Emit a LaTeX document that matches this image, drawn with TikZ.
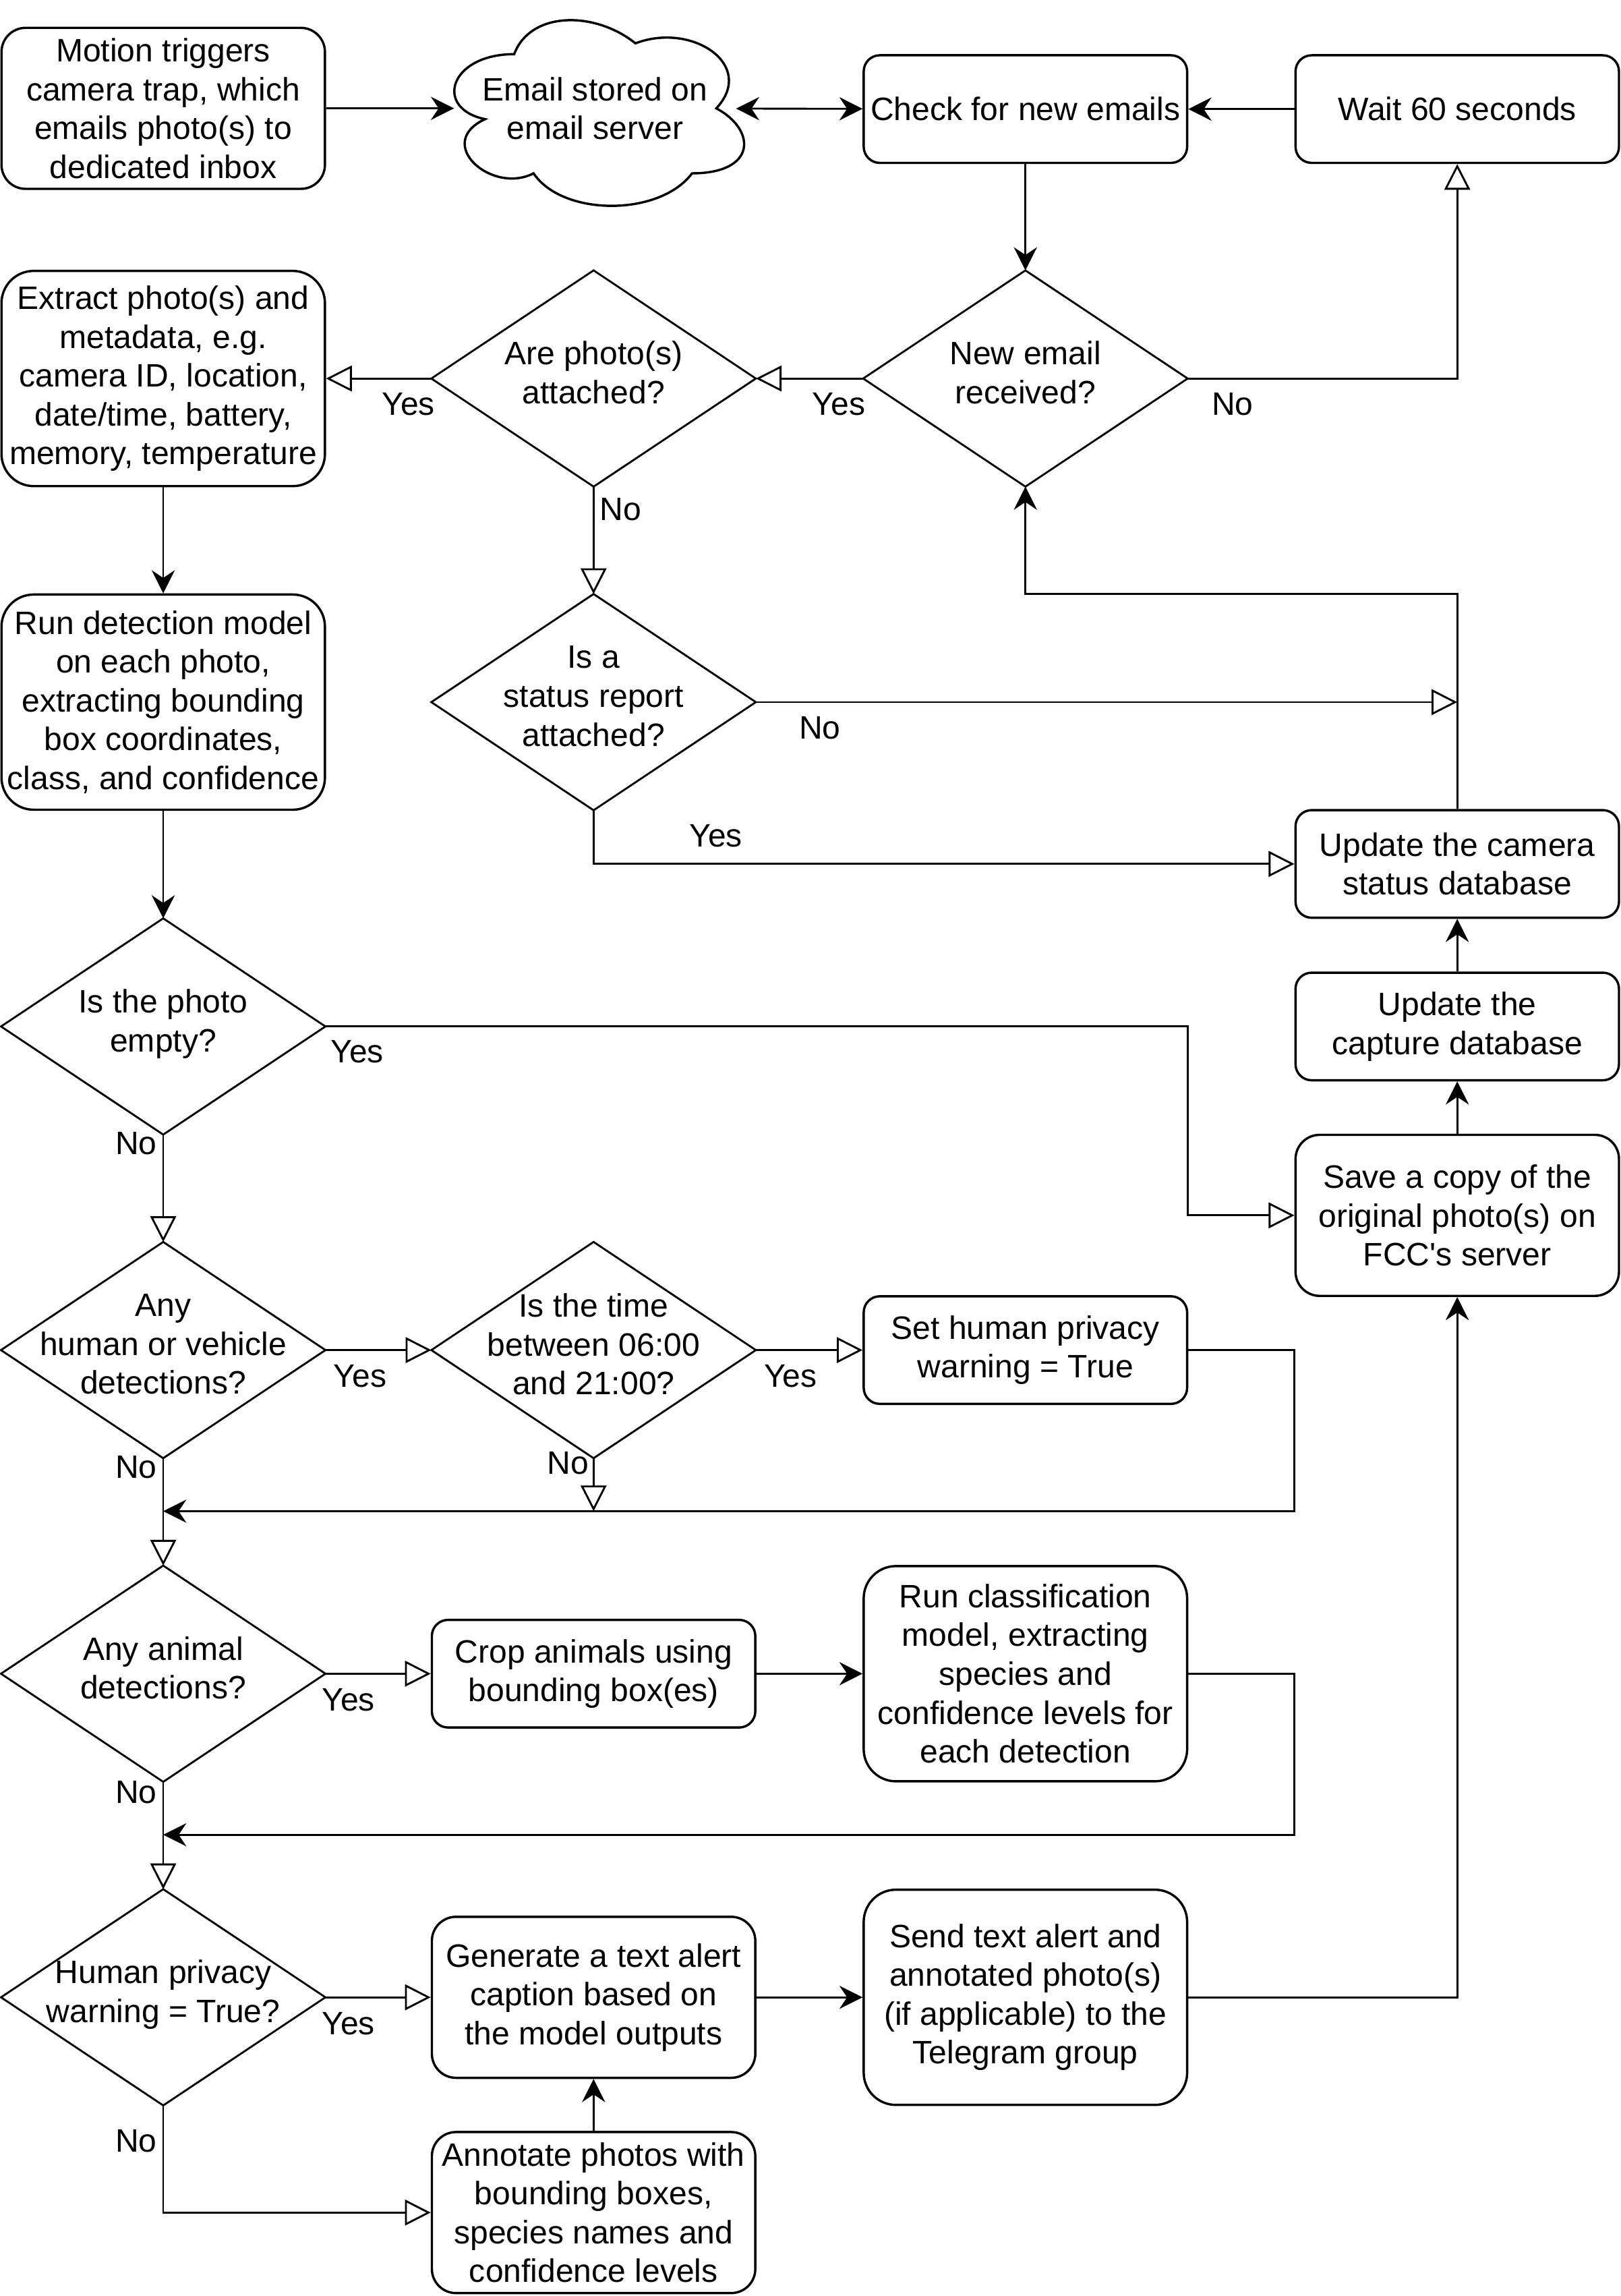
\documentclass[tikz,border=0pt]{standalone}
\usepackage{fontspec}
\setmainfont{Liberation Sans}
\usetikzlibrary{arrows.meta,calc}

\tikzset{
  proc/.style={draw, line width=0.9pt, fill=white, align=center, inner sep=1pt, minimum width=4.42cm},
  procS/.style={proc, minimum height=1.47cm, rounded corners=0.22cm},
  procM/.style={proc, minimum height=2.2cm, rounded corners=0.33cm},
  procL/.style={proc, minimum height=2.94cm, rounded corners=0.44cm},
  decision/.style={align=center, inner sep=0pt, minimum width=4.42cm, minimum height=2.94cm,
    execute at begin node={\rule{0pt}{11.9pt}}, execute at end node={\rule[-4.7pt]{0pt}{4.7pt}}},
  lbl/.style={inner sep=0pt},
  link/.style={line width=0.75pt},
  flow/.style={link, -{Stealth[length=9pt, width=9pt, inset=3pt]}},
  both/.style={link, {Stealth[length=9pt, width=9pt, inset=3pt]}-{Stealth[length=9pt, width=9pt, inset=3pt]}},
  branch/.style={link, -{Triangle[open, length=10pt, width=10pt]}}
}

\begin{document}
\begin{tikzpicture}[x=0.02cm, y=-0.02cm, every node/.style={font=\fontsize{12.6}{15.1}\selectfont}]
    \useasboundingbox (0,0) rectangle (1107,1568);

    % mail server cloud
    \begin{scope}[shift={(296,0)}, x=4.42cm, y=-2.96cm]
    \draw[line width=0.9pt, fill=white] (0.25,0.25) .. controls (0.05,0.25) and (0,0.5) .. (0.16,0.55)
        .. controls (0,0.66) and (0.18,0.9) .. (0.31,0.8)
        .. controls (0.4,1) and (0.7,1) .. (0.8,0.8)
        .. controls (1,0.8) and (1,0.6) .. (0.875,0.5)
        .. controls (1,0.3) and (0.8,0.1) .. (0.625,0.2)
        .. controls (0.5,0.05) and (0.3,0.05) .. (0.25,0.25) -- cycle;
    \end{scope}

    \node[procM] (motion) at (111.5,74) {Motion triggers\\camera trap, which\\emails photo(s) to\\dedicated inbox};
    \node[align=center, inner sep=0pt, minimum width=3.84cm] (mail) at (406.5,74) {Email stored on\\email server};
    \node[procS] (check) at (700.5,74.5) {Check for new emails};
    \node[procS] (wait) at (995.5,74.5) {Wait 60 seconds};

    \node[decision] (newmail) at (700.5,258.5) {New email\\received?};
    \node[decision] (photos) at (405.5,258.5) {Are photo(s)\\attached?};
    \node[procL] (extract) at (111.5,258.5) {Extract photo(s) and\\metadata, e.g.\\camera ID, location,\\date/time, battery,\\memory, temperature};
    \node[procL] (detect) at (111.5,479.5) {Run detection model\\on each photo,\\extracting bounding\\box coordinates,\\class, and confidence};
    \node[decision] (status) at (405.5,479.5) {Is a\\status report\\attached?};

    \node[procS] (camdb) at (995.5,590) {Update the camera\\status database};
    \node[procS] (capdb) at (995.5,701) {Update the\\capture database};
    \node[procM] (save) at (995.5,830) {Save a copy of the\\original photo(s) on\\FCC\textquotesingle s server};

    \node[decision] (empty) at (111.5,701) {Is the photo\\empty?};
    \node[decision] (human) at (111.5,922) {Any\\human or vehicle\\detections?};
    \node[decision] (daytime) at (405.5,922) {Is the time\\between 06:00\\and 21:00?};
    \node[procS] (privset) at (700.5,922) {Set human privacy\\warning = True};

    \node[decision] (animal) at (111.5,1143) {Any animal\\detections?};
    \node[procS] (crop) at (405.5,1143) {Crop animals using\\bounding box(es)};
    \node[procL] (classify) at (700.5,1143) {Run classification\\model, extracting\\species and\\confidence levels for\\each detection};

    \node[decision] (privacy) at (111.5,1364) {Human privacy\\warning = True?};
    \node[procM] (caption) at (405.5,1364) {Generate a text alert\\caption based on\\the model outputs};
    \node[procL] (send) at (700.5,1364) {Send text alert and\\annotated photo(s)\\(if applicable) to the\\Telegram group};
    \node[procM] (annotate) at (405.5,1511) {Annotate photos with\\bounding boxes,\\species names and\\confidence levels};

    \foreach \d in {newmail,photos,status,empty,human,daytime,animal,privacy}
    \draw[line width=0.75pt] (\d.north) -- (\d.east) -- (\d.south) -- (\d.west) -- cycle;

    \coordinate (joinA) at (111.5,1032);
    \coordinate (joinB) at (111.5,1253);

    % connectors
    \draw[flow] (motion) -- (mail);
    \draw[both] (mail) -- (check);
    \draw[flow] (wait) -- (check);
    \draw[flow] (check) -- (newmail);
    \draw[branch] (newmail.east) -| (wait.south);
    \draw[branch] (newmail) -- (photos);
    \draw[branch] (photos) -- (extract);
    \draw[branch] (photos) -- (status);
    \draw[flow] (extract) -- (detect);
    \draw[branch] (status.east) -- (status.east -| camdb.north);
    \draw[branch] (status.south) |- (camdb.west);
    \draw[flow] (camdb.north) -- (camdb.north |- status.north) -| (newmail.south);
    \draw[flow] (detect) -- (empty);
    \draw[branch] (empty.east) -| (newmail.east |- save.west) -- (save.west);
    \draw[branch] (empty) -- (human);
    \draw[branch] (human) -- (daytime);
    \draw[branch] (human) -- (animal);
    \draw[branch] (daytime) -- (privset);
    \draw[branch] (daytime.south) -- (daytime.south |- joinA);
    \draw[flow] (privset.east) -| (save.west |- joinA) -- (joinA);
    \draw[branch] (animal) -- (crop);
    \draw[flow] (crop) -- (classify);
    \draw[flow] (classify.east) -| (save.west |- joinB) -- (joinB);
    \draw[branch] (animal) -- (privacy);
    \draw[branch] (privacy) -- (caption);
    \draw[branch] (privacy.south) |- (annotate.west);
    \draw[flow] (annotate) -- (caption);
    \draw[flow] (caption) -- (send);
    \draw[flow] (send.east) -| (save.south);
    \draw[flow] (save) -- (capdb);
    \draw[flow] (capdb) -- (camdb);

    \foreach \n/\x/\y/\t in {noNew/842/276/No, yesNew/573/276/Yes, yesPhoto/279/276/Yes, noPhoto/424/348/No,
        noStatus/560/497/No, yesStatus/489/571/Yes, yesEmpty/244/718/Yes, noEmpty/93/781/No,
        yesHuman/246/940/Yes, noHuman/93/1002/No, yesTime/540/940/Yes, noTime/388/999/No,
        yesAnimal/238/1161/Yes, noAnimal/93/1224/No, yesPriv/238/1382/Yes, noPriv/93/1462/No}
    \node[lbl] (\n) at (\x,\y) {\t};
\end{tikzpicture}
\end{document}
